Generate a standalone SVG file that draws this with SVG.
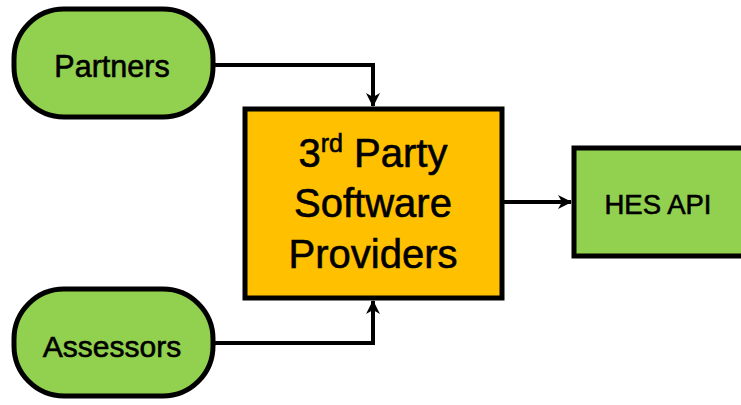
<svg xmlns="http://www.w3.org/2000/svg" width="741" height="405" viewBox="0 0 741 405">
<defs>
<style>
.node{stroke:#000;stroke-width:5}
.green{fill:#92D050}
.orange{fill:#FFC000}
.lbl{font-family:"Liberation Sans",Arial,sans-serif;fill:#000;text-anchor:middle;stroke:#000;stroke-width:0.6}
.conn{fill:none;stroke:#000;stroke-width:4}
</style>
<marker id="arr" viewBox="0 0 14 14" refX="13" refY="7" markerWidth="14" markerHeight="14" markerUnits="userSpaceOnUse" orient="auto">
<path d="M0,0 L14,7 L0,14 L4,7 Z" fill="#000"/>
</marker>
</defs>
<g id="connectors">
<path class="conn" d="M213,65 H373 V106" marker-end="url(#arr)"/>
<path class="conn" d="M213,343 H373 V301" marker-end="url(#arr)"/>
<path class="conn" d="M504,202 H571" marker-end="url(#arr)"/>
</g>
<g id="partners">
<rect class="node green" x="14" y="9" width="199" height="108" rx="50" ry="50"/>
<text class="lbl" x="112" y="77" font-size="30.5">Partners</text>
</g>
<g id="assessors">
<rect class="node green" x="14" y="289" width="199" height="107" rx="50" ry="50"/>
<text class="lbl" x="112" y="357" font-size="30">Assessors</text>
</g>
<g id="providers">
<rect class="node orange" x="245" y="109" width="257" height="189"/>
<text class="lbl" x="373" y="167" font-size="40">3<tspan font-size="25" dy="-15">rd</tspan><tspan dy="15"> Party</tspan></text>
<text class="lbl" x="373" y="217" font-size="40">Software</text>
<text class="lbl" x="373" y="268" font-size="40">Providers</text>
</g>
<g id="hes-api">
<rect class="node green" x="574" y="148" width="180" height="108"/>
<text class="lbl" x="658" y="214" font-size="27.5">HES API</text>
</g>
</svg>
